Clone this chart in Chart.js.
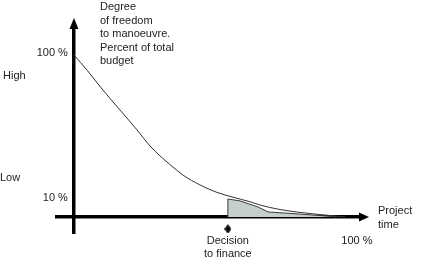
<!DOCTYPE html>
<html>
<head>
<meta charset="utf-8">
<script src="https://cdn.jsdelivr.net/npm/chart.js@4/dist/chart.umd.min.js"></script>
<style>
html,body{margin:0;padding:0;background:#fff;}
#wrap{width:421px;height:258px;position:relative;}
</style>
</head>
<body>
<div id="wrap"><canvas id="c" width="421" height="258"></canvas></div>
<script>
// ---- data ----
const curveX = [0, 4.6, 10.2, 16.3, 22.3, 26.9, 30.4, 33.9, 38.5, 44.5, 50.5, 56.2, 62.2, 65.7, 72.8, 79.9, 90.5, 95.8];
const curveY = [100, 90.7, 78.4, 66.0, 53.7, 43.8, 37.7, 32.4, 25.9, 19.8, 15.2, 12.2, 9.4, 7.4, 4.6, 2.8, 0.9, 0];
const shadeX = [54.4, 54.4, 58.7, 65.0, 68.6, 76.3, 86.9, 92.9];
const shadeY = [0, 11.1, 9.9, 6.2, 3.1, 2.2, 0.9, 0];
const decisionX = 54.4;
const decisionMarkY = -7.4;
const yTickValues = [101.5, 11.7];
const yTickLabels = ['100 %', '10 %'];
const xTickValues = [54.4, 100];
const xTickLabels = [['Decision', 'to finance'], '100 %'];
const titleLines = ['Degree', 'of freedom', 'to manoeuvre.', 'Percent of total', 'budget'];
const xTitleLines = ['Project', 'time'];
const levelLabels = ['High', 'Low'];

const FONT = '"Liberation Sans", Arial, sans-serif';
const TXT = '#222';

function pts(xs, ys){ return xs.map((x,i)=>({x:x, y:ys[i]})); }

// diamond marker image
const dm = document.createElement('canvas');
dm.width = 7; dm.height = 10;
(function(){
  const g = dm.getContext('2d');
  g.fillStyle = '#111';
  g.beginPath();
  g.moveTo(3.5,0); g.lineTo(7,5); g.lineTo(3.5,10); g.lineTo(0,5); g.closePath();
  g.fill();
})();

const annot = {
  id: 'annot',
  afterDraw(chart){
    const ctx = chart.ctx;
    const xs = chart.scales.x, ys = chart.scales.y;
    const ax = xs.getPixelForValue(0);
    const ay = ys.getPixelForValue(0);
    const ca = chart.chartArea;
    ctx.save();
    ctx.fillStyle = '#000';
    // up arrow
    ctx.beginPath();
    ctx.moveTo(ax, ca.top - 8);
    ctx.lineTo(ax + 4.5, ca.top + 3);
    ctx.lineTo(ax - 4.5, ca.top + 3);
    ctx.closePath(); ctx.fill();
    // right arrow
    ctx.beginPath();
    ctx.moveTo(ca.right + 7, ay);
    ctx.lineTo(ca.right - 3, ay - 4.5);
    ctx.lineTo(ca.right - 3, ay + 4.5);
    ctx.closePath(); ctx.fill();
    // texts
    ctx.fillStyle = TXT;
    ctx.font = '11px ' + FONT;
    ctx.textBaseline = 'middle';
    ctx.textAlign = 'left';
    titleLines.forEach((t,i)=> ctx.fillText(t, 100, 7 + i*13.5));
    ctx.fillText(levelLabels[0], 3, 76);
    ctx.fillText(levelLabels[1], 0, 178);
    xTitleLines.forEach((t,i)=> ctx.fillText(t, 378, 211 + i*13.5));
    ctx.restore();
  }
};

new Chart(document.getElementById('c'), {
  type: 'scatter',
  data: {
    datasets: [
      {
        data: pts(curveX, curveY),
        showLine: true,
        borderColor: '#333',
        borderWidth: 1,
        pointRadius: 0,
        cubicInterpolationMode: 'monotone',
        fill: false,
        order: 0
      },
      {
        data: pts(shadeX, shadeY),
        showLine: true,
        borderColor: '#3a3a3a',
        borderWidth: 1,
        backgroundColor: '#c6cfca',
        pointRadius: 0,
        tension: 0,
        fill: 'origin',
        order: 1
      },
      {
        data: [{x: decisionX, y: decisionMarkY}],
        pointStyle: dm,
        pointRadius: 5,
        showLine: false,
        order: 2
      }
    ]
  },
  options: {
    responsive: false,
    animation: false,
    events: [],
    layout: { padding: { left: 57, right: 59, top: 26, bottom: 25 } },
    plugins: { legend: { display: false }, tooltip: { enabled: false }, title: { display: false } },
    scales: {
      x: {
        type: 'linear',
        min: -6.0, max: 101.8,
        position: { y: 0 },
        afterFit(s){ s.height = 0; },
        afterBuildTicks(s){ s.ticks = xTickValues.map(v=>({value:v})); },
        grid: { display: false, drawTicks: false },
        border: { display: true, color: '#000', width: 3.5 },
        ticks: {
          autoSkip: false,
          maxRotation: 0,
          padding: 17,
          color: TXT,
          font: { family: FONT, size: 11 },
          callback(v){ const i = xTickValues.indexOf(v); return i >= 0 ? xTickLabels[i] : ''; }
        }
      },
      y: {
        type: 'linear',
        min: -9.9, max: 117.9,
        position: { x: 0 },
        afterFit(s){ s.width = 0; },
        afterBuildTicks(s){ s.ticks = yTickValues.map(v=>({value:v})); },
        grid: { display: false, drawTicks: false },
        border: { display: true, color: '#000', width: 3.5 },
        ticks: {
          autoSkip: false,
          color: TXT,
          font: { family: FONT, size: 11 },
          // this axis position ignores ticks.padding, so two trailing spaces keep the gap
          callback(v){ const i = yTickValues.indexOf(v); return i >= 0 ? yTickLabels[i] + '  ' : ''; }
        }
      }
    }
  },
  plugins: [annot]
});
</script>
</body>
</html>
